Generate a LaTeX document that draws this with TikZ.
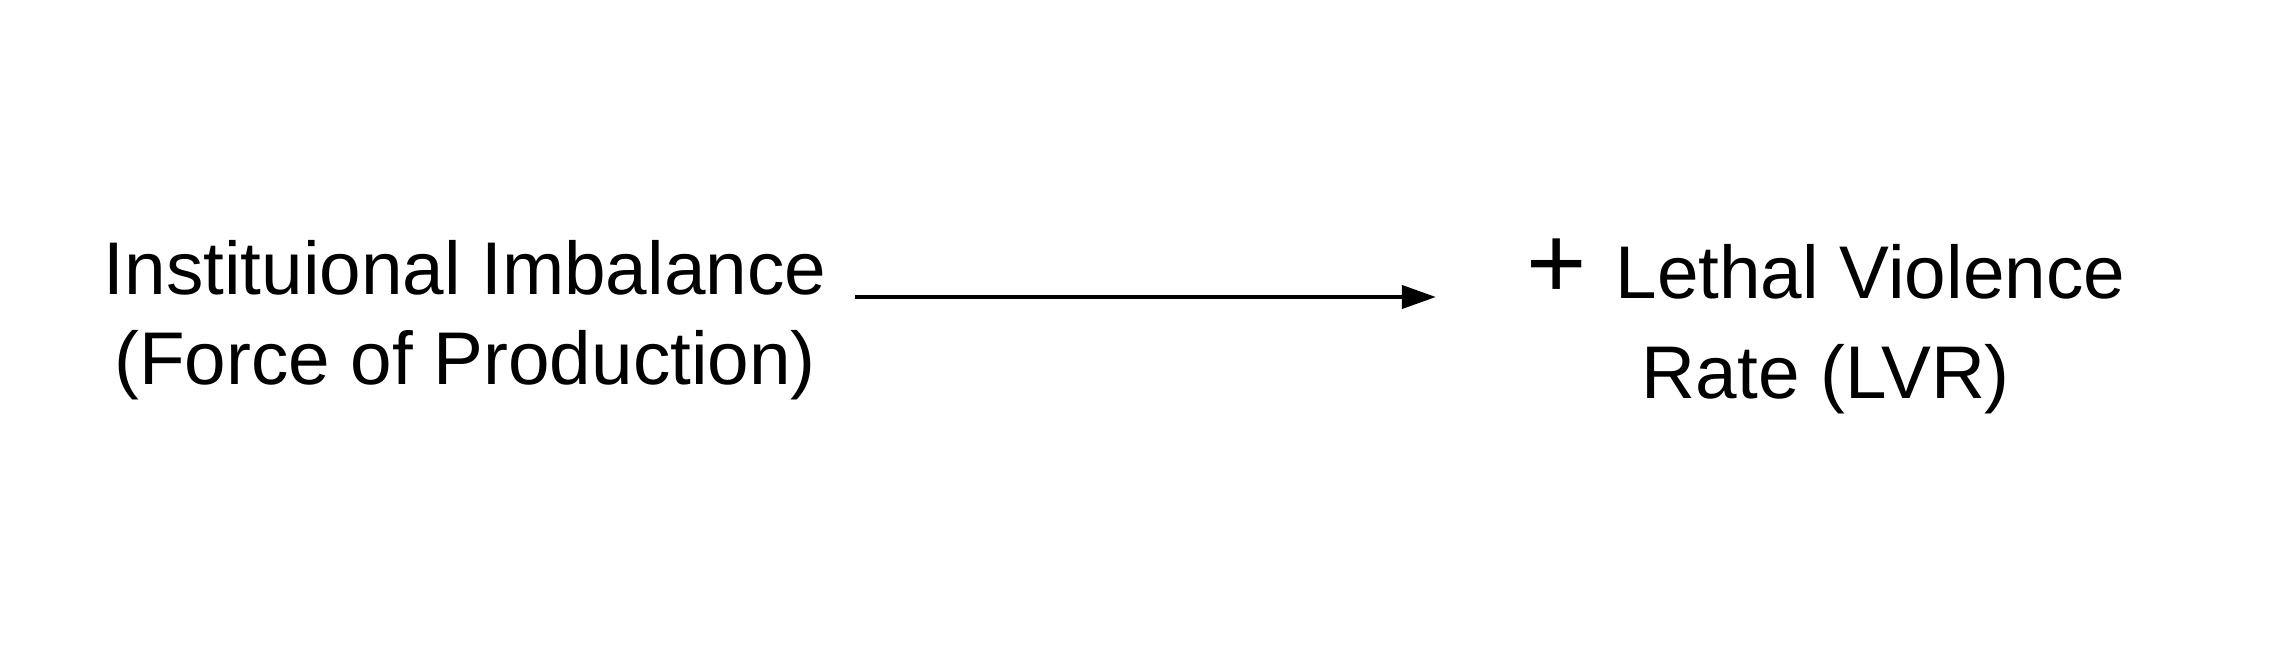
\documentclass[tikz,border=0pt]{standalone}
\usepackage{fontspec}
\setmainfont{Liberation Sans}
\usetikzlibrary{arrows.meta, positioning}
\newcommand{\labelfont}{\fontsize{21.25pt}{25.6pt}\selectfont}
\newcommand{\signfont}{\fontsize{29.4pt}{25.6pt}\selectfont}
\tikzset{concept/.style={align=center, inner sep=0pt, font=\labelfont}}

\begin{document}
\begin{tikzpicture}
\useasboundingbox (0,0) rectangle (22.88,6.49);

% --- Cause ---
\node[concept] (imbalance) at (4.65,3.29)
{Instituional Imbalance\\(Force of Production)};

% --- Effect ---
\node[concept, right=6.99cm of imbalance, yshift=-0.6mm] (lvr)
{{\signfont+ }Lethal Violence\\[2.85pt]Rate (LVR)};

% --- Arrow ---
\draw[-{Triangle[length=3.4mm, width=2.3mm]}, line width=1.14pt,
    shorten <=2.8mm, shorten >=9mm]
    ([yshift=2.3mm]imbalance.east) -- ([yshift=2.3mm]imbalance.east -| lvr.west);

\end{tikzpicture}
\end{document}
